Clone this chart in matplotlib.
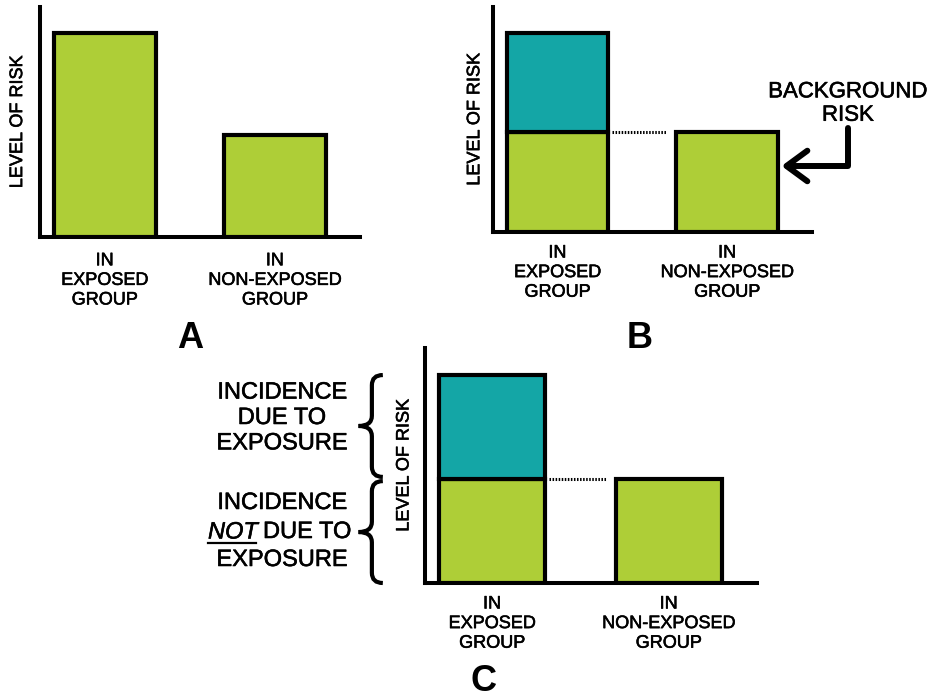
import matplotlib
matplotlib.use("Agg")
import matplotlib.pyplot as plt
import matplotlib.transforms as mtransforms
import matplotlib.patheffects as pe
from matplotlib.path import Path
from matplotlib.patches import PathPatch
from matplotlib.lines import Line2D
from matplotlib.text import Text

W, H = 934, 700
GREEN = "#AECE37"
TEAL = "#14A6A6"

# data
groups = ["IN\nEXPOSED\nGROUP", "IN\nNON-EXPOSED\nGROUP"]
background_risk = [1.0, 1.0]
excess_risk = [1.0, 0.0]
total_risk = [b + e for b, e in zip(background_risk, excess_risk)]
x = [0, 1]

plt.rcParams['font.family'] = ['Liberation Sans', 'DejaVu Sans']

fig = plt.figure(figsize=(W / 100, H / 100), dpi=100)


def px(xp, yp):
    return xp / W, 1 - yp / H


def panel(left, right, top, bottom, labelpad, tickpad):
    ax = fig.add_axes([left / W, 1 - bottom / H, (right - left) / W, (bottom - top) / H])
    ax.set_xlim(-0.38, 1.5)
    ax.set_ylim(0, 2.26)
    ax.patch.set_alpha(0)
    for s in ['top', 'right']:
        ax.spines[s].set_visible(False)
    for s in ['left', 'bottom']:
        ax.spines[s].set_linewidth(2.9)
    ax.set_yticks([])
    ax.set_xticks(x)
    ax.set_xticklabels(groups, fontsize=13, linespacing=1.2)
    ax.tick_params(axis='x', length=0, pad=tickpad)
    ax.set_ylabel("LEVEL OF RISK", fontsize=13, labelpad=labelpad)
    return ax


def stacked(ax):
    ax.bar(x, background_risk, width=0.6, color=GREEN, edgecolor='black', linewidth=3, zorder=3)
    for xi, b, e in zip(x, background_risk, excess_risk):
        if e > 0:
            ax.bar(xi, e, bottom=b, width=0.6, color=TEAL, edgecolor='black', linewidth=3, zorder=3)
    ax.plot([0.32, 0.645], [background_risk[0]] * 2, color='black', lw=2.2,
            linestyle=(0, (0.5, 0.5)), zorder=2)


# panel A
axA = panel(40, 360, 7, 237, labelpad=10, tickpad=11)
axA.bar(x, total_risk, width=0.6, color=GREEN, edgecolor='black', linewidth=3, zorder=3)

# panel B
axB = panel(493, 812, 7, 232, labelpad=7, tickpad=9)
stacked(axB)
axB.text(1.712, 1.29, "BACKGROUND\nRISK", ha='center', va='center', fontsize=16,
         linespacing=1.15, clip_on=False)
axB.annotate("", xy=(1.32, 0.663), xytext=(1.712, 1.045),
             arrowprops=dict(arrowstyle='->,head_length=0.75,head_width=0.55', lw=4.3,
                             color='black', shrinkA=0, shrinkB=0, mutation_scale=20,
                             connectionstyle='angle,angleA=90,angleB=0,rad=0'),
             annotation_clip=False)

# panel C
axC = panel(425, 757, 348, 583, labelpad=9, tickpad=9)
stacked(axC)


def brace(ax, y0, y1):
    tr = mtransforms.blended_transform_factory(ax.transAxes, ax.transData)
    xe, xm, xt = -0.127, -0.16, -0.2
    ym = (y0 + y1) / 2
    c = 0.1 * (y1 - y0)
    verts = [(xe, y1), (xm, y1), (xm, y1 - c), (xm, ym + c), (xm, ym), (xt, ym),
             (xm, ym), (xm, ym - c), (xm, y0 + c), (xm, y0), (xe, y0)]
    codes = [Path.MOVETO, Path.CURVE3, Path.CURVE3, Path.LINETO, Path.CURVE3, Path.CURVE3,
             Path.CURVE3, Path.CURVE3, Path.LINETO, Path.CURVE3, Path.CURVE3]
    ax.add_patch(PathPatch(Path(verts, codes), transform=tr, fill=False, lw=3,
                           edgecolor='black', clip_on=False))


brace(axC, background_risk[0] + 0.02, total_risk[0])
brace(axC, 0.0, background_risk[0] - 0.02)

fig.text(*px(282, 418), "INCIDENCE\nDUE TO\nEXPOSURE", ha='center', va='center',
         fontsize=17, linespacing=1.2)
fig.text(*px(282, 503), "INCIDENCE", ha='center', va='center', fontsize=17)
fig.text(*px(208, 532), "NOT", ha='left', va='center', fontsize=17, style='italic')
fig.text(*px(263, 532), "DUE TO", ha='left', va='center', fontsize=17)
fig.text(*px(282, 560), "EXPOSURE", ha='center', va='center', fontsize=17)
fig.add_artist(Line2D([208 / W, 256 / W], [1 - 542.5 / H, 1 - 542.5 / H], color='black', lw=1.6))

# panel letters
fig.text(*px(190, 348), "A", ha='center', va='baseline', fontsize=26, fontweight='bold')
fig.text(*px(640, 348), "B", ha='center', va='baseline', fontsize=26, fontweight='bold')
fig.text(*px(483, 699), "C", ha='center', va='bottom', fontsize=26, fontweight='bold')

# slightly heavier strokes on the lettering, like the source figure
for t in fig.findobj(Text):
    if t.get_text() and t.get_fontweight() != 'bold':
        t.set_path_effects([pe.withStroke(linewidth=0.4, foreground='black')])

fig.savefig("out.png", dpi=100)
